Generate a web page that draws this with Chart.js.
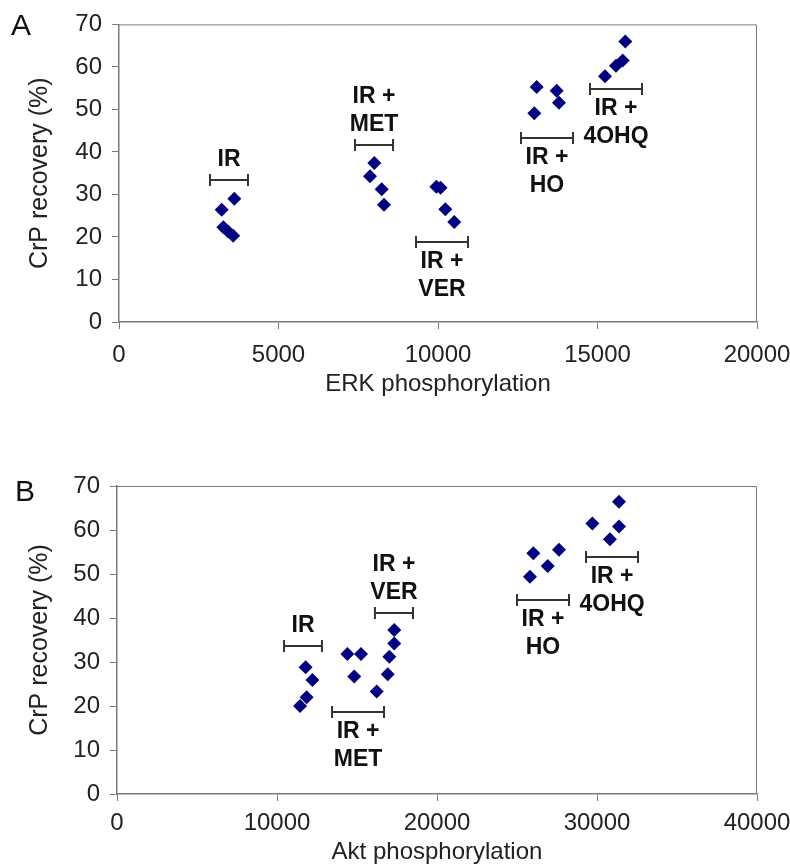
<!DOCTYPE html>
<html>
<head>
<meta charset="utf-8">
<script src="https://cdn.jsdelivr.net/npm/chart.js@4.4.1/dist/chart.umd.min.js"></script>
<style>
  body { margin: 0; background: #fff; width: 790px; height: 868px; position: relative; overflow: hidden; font-family: "Liberation Sans", Arial, sans-serif; }
  canvas { position: absolute; left: 0; }
  .tag { position: absolute; font-size: 30px; color: #111; line-height: 1; }
</style>
</head>
<body>
<canvas id="chart-a" width="790" height="430" style="top:0"></canvas>
<canvas id="chart-b" width="790" height="438" style="top:430px"></canvas>
<div class="tag" style="left:11px;top:10px">A</div>
<div class="tag" style="left:15px;top:476px">B</div>
<script>
// Group labels, same order in both panels
const groupLabels = [['IR'], ['IR +', 'MET'], ['IR +', 'VER'], ['IR +', 'HO'], ['IR +', '4OHQ']];

// Panel A: ERK phosphorylation vs CrP recovery
const erkX = [3615, 3220, 3270, 3420, 3580,
              8003, 7868, 8235, 8307,
              9950, 10080, 10230, 10510,
              13094, 13720, 13793, 13020,
              15872, 15790, 15580, 15235];
const erkY = [29.0, 26.4, 22.3, 21.3, 20.3,
              37.4, 34.3, 31.2, 27.6,
              31.8, 31.6, 26.5, 23.5,
              55.3, 54.4, 51.6, 49.1,
              66.0, 61.5, 60.3, 57.8];
// horizontal bars (mean +/- spread) per group
const erkBarMid = [3448, 7994, 10125, 13417, 15580];
const erkBarHalf = [595, 596, 815, 815, 815];
const erkBarY = [33.4, 41.6, 18.8, 43.3, 54.7];
const erkLabelSide = ['above', 'above', 'below', 'below', 'below'];

// Panel B: Akt phosphorylation vs CrP recovery
const aktX = [11790, 12210, 11850, 11440,
              14400, 15250, 14830, 16230,
              17330, 17330, 17020, 16920,
              26020, 27625, 26920, 25810,
              31375, 29710, 31375, 30810];
const aktY = [28.8, 25.9, 22.0, 20.0,
              31.8, 31.8, 26.7, 23.3,
              37.3, 34.2, 31.2, 27.2,
              54.7, 55.5, 51.8, 49.4,
              66.4, 61.5, 60.8, 57.9];
const aktBarMid = [11625, 15065, 17310, 26625, 30940];
const aktBarHalf = [1185, 1625, 1190, 1625, 1625];
const aktBarY = [33.7, 18.6, 41.1, 44.1, 53.9];
const aktLabelSide = ['above', 'below', 'above', 'below', 'below'];

const yTicks = [0, 10, 20, 30, 40, 50, 60, 70];

const FONT = '"Liberation Sans", Arial, sans-serif';
const AXIS_GREY = '#7a7a7a';

// draws the plot frame, the horizontal bars and the group names
const bracketPlugin = {
  id: 'brackets',
  afterDatasetsDraw(chart, args, opts) {
    const { ctx, chartArea: area, scales: { x, y } } = chart;
    ctx.save();
    ctx.strokeStyle = AXIS_GREY;
    ctx.lineWidth = 1;
    ctx.beginPath();
    ctx.moveTo(area.left, area.top + 0.5);
    ctx.lineTo(area.right - 0.5, area.top + 0.5);
    ctx.lineTo(area.right - 0.5, area.bottom);
    ctx.stroke();

    ctx.font = 'bold 23px ' + FONT;
    ctx.textAlign = 'center';
    ctx.textBaseline = 'middle';
    ctx.fillStyle = '#111';
    opts.mid.forEach((m, i) => {
      const x0 = x.getPixelForValue(m - opts.half[i]);
      const x1 = x.getPixelForValue(m + opts.half[i]);
      const py = Math.round(y.getPixelForValue(opts.level[i]));
      ctx.strokeStyle = '#333';
      ctx.lineWidth = 2;
      ctx.beginPath();
      ctx.moveTo(x0, py); ctx.lineTo(x1, py);
      ctx.moveTo(x0, py - 6); ctx.lineTo(x0, py + 6);
      ctx.moveTo(x1, py - 6); ctx.lineTo(x1, py + 6);
      ctx.stroke();

      const lines = groupLabels[i];
      const cx = x.getPixelForValue(m);
      lines.forEach((t, k) => {
        const ty = opts.side[i] === 'above'
          ? py - 20 - (lines.length - 1 - k) * 28
          : py + 20 + k * 28;
        ctx.fillText(t, cx, ty);
      });
    });
    ctx.restore();
  }
};

function makeChart(id, xs, ys, cfg) {
  const points = xs.map((v, i) => ({ x: v, y: ys[i] }));
  return new Chart(document.getElementById(id), {
    type: 'scatter',
    data: {
      datasets: [{
        data: points,
        pointStyle: 'rectRot',
        pointRadius: 7,
        pointHoverRadius: 7,
        backgroundColor: '#000080',
        borderColor: '#000080',
        borderWidth: 0
      }]
    },
    options: {
      responsive: false,
      animation: false,
      layout: { padding: { top: cfg.top, right: 33, bottom: 0, left: 0 } },
      plugins: {
        legend: { display: false },
        tooltip: { enabled: false },
        brackets: cfg.bars
      },
      scales: {
        x: {
          type: 'linear',
          min: 0,
          max: cfg.xMax,
          // fixed axis box; end labels may overhang the plot edge
          afterFit: s => { s.height = cfg.xHeight; s.paddingLeft = 0; s.paddingRight = 0; },
          afterBuildTicks: s => { s.ticks = cfg.xTicks.map(v => ({ value: v })); },
          border: { color: AXIS_GREY, width: 1.5 },
          grid: { drawOnChartArea: false, tickLength: 7, color: AXIS_GREY },
          ticks: {
            color: '#222',
            padding: cfg.xTickPad,
            maxRotation: 0,
            font: { family: FONT, size: 24 },
            callback: v => String(v)
          },
          title: {
            display: true,
            text: cfg.xTitle,
            color: '#222',
            font: { family: FONT, size: 24 },
            padding: { top: 0, bottom: cfg.xTitlePad }
          }
        },
        y: {
          type: 'linear',
          min: 0,
          max: 70,
          afterFit: s => { s.width = cfg.yWidth; },
          afterBuildTicks: s => { s.ticks = yTicks.map(v => ({ value: v })); },
          border: { color: AXIS_GREY, width: 1.5 },
          grid: { drawOnChartArea: false, tickLength: 7, color: AXIS_GREY },
          ticks: {
            color: '#222',
            padding: 10,
            font: { family: FONT, size: 24 }
          },
          title: {
            display: true,
            text: 'CrP recovery (%)',
            color: '#222',
            font: { family: FONT, size: 25 },
            padding: { top: 25, bottom: 0 }
          }
        }
      }
    },
    plugins: [bracketPlugin]
  });
}

makeChart('chart-a', erkX, erkY, {
  top: 20,
  xMax: 20000,
  xTicks: [0, 5000, 10000, 15000, 20000],
  xTitle: 'ERK phosphorylation',
  xHeight: 108,
  xTickPad: 12,
  xTitlePad: 31,
  yWidth: 119,
  bars: { mid: erkBarMid, half: erkBarHalf, level: erkBarY, side: erkLabelSide }
});

makeChart('chart-b', aktX, aktY, {
  top: 56,
  xMax: 40000,
  xTicks: [0, 10000, 20000, 30000, 40000],
  xTitle: 'Akt phosphorylation',
  xHeight: 74,
  xTickPad: 8,
  xTitlePad: 1,
  yWidth: 117,
  bars: { mid: aktBarMid, half: aktBarHalf, level: aktBarY, side: aktLabelSide }
});
</script>
</body>
</html>
